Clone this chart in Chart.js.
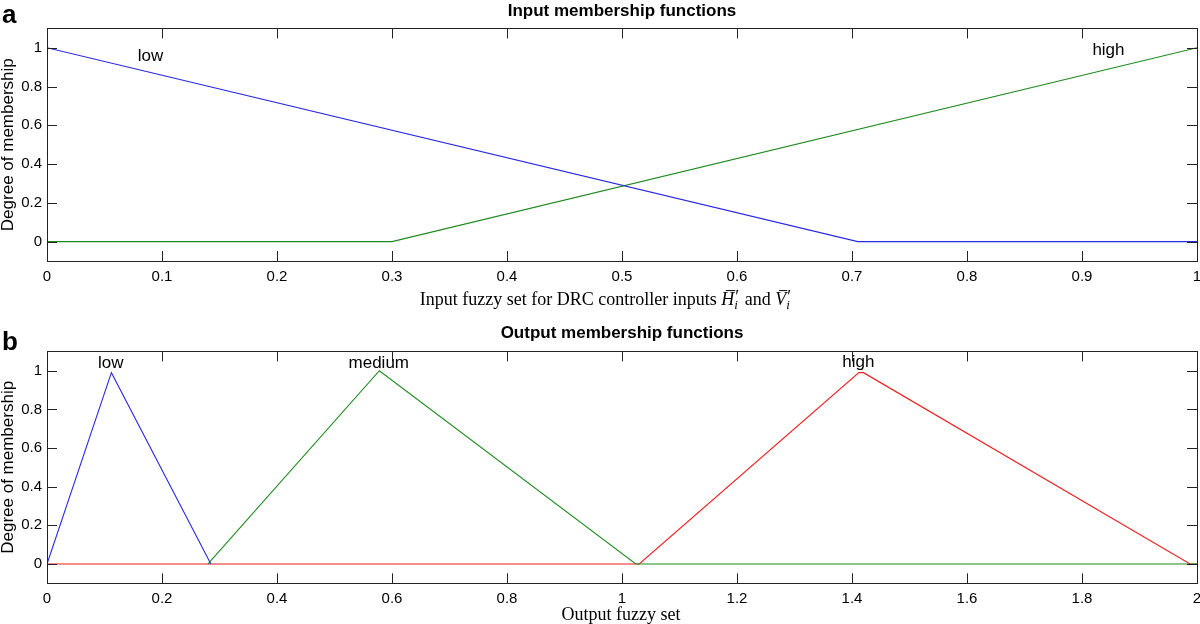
<!DOCTYPE html>
<html>
<head>
<meta charset="utf-8">
<script src="https://cdn.jsdelivr.net/npm/chart.js@4.4.1/dist/chart.umd.min.js"></script>
<style>
  body { margin: 0; background: #fff; }
  .panel { position: relative; width: 1200px; height: 312px; }
</style>
</head>
<body>
<div class="panel"><canvas id="inputChart"></canvas></div>
<div class="panel"><canvas id="outputChart"></canvas></div>
<script>
const inputXTicks = [0, 0.1, 0.2, 0.3, 0.4, 0.5, 0.6, 0.7, 0.8, 0.9, 1];
const outputXTicks = [0, 0.2, 0.4, 0.6, 0.8, 1, 1.2, 1.4, 1.6, 1.8, 2];
const yTicks = [0, 0.2, 0.4, 0.6, 0.8, 1];

// panel a: input membership functions
const inLowX = [0, 0.705, 1];
const inLowY = [1, 0, 0];
const inHighX = [0, 0.3, 1];
const inHighY = [0, 0, 1];

// panel b: output membership functions
const outLowX = [0, 0.112, 0.285];
const outLowY = [0, 0.99, 0];
const outMedX = [0.28, 0.578, 1.024, 2];
const outMedY = [0, 1, 0, 0];
const outHighX = [0, 1.03, 1.412, 1.42, 1.988, 2];
const outHighY = [0, 0, 0.99, 0.99, 0, 0];

// set names written on the curves
const inNames = ['low', 'high'];
const inNameX = [0.09, 0.923];
const inNameY = [0.933, 0.964];
const outNames = ['low', 'medium', 'high'];
const outNameX = [0.111, 0.577, 1.411];
const outNameY = [1.016, 1.016, 1.02];

const SANS = '"Liberation Sans", Arial, sans-serif';
const SERIF = '"Liberation Serif", "Times New Roman", serif';
const BLUE = '#2a2ae6';
const GREEN = '#1f8a1f';
const RED = '#ee1c1c';

function toPoints(xs, ys) {
    return xs.map((x, i) => ({ x: x, y: ys[i] }));
}

// small rich text: plain / italic runs and stacked prime + subscript
function drawRich(ctx, parts, cx, baseline, size) {
    const fontOf = (it, sz) => (it ? 'italic ' : '') + sz + 'px ' + SERIF;
    const small = size * 0.72;
    const widths = parts.map(p => {
        if (p.sup) {
            ctx.font = fontOf(false, size);
            const w1 = ctx.measureText(p.sup).width;
            ctx.font = fontOf(true, small);
            const w2 = ctx.measureText(p.sub).width;
            return Math.max(w1, w2) + 2;
        }
        ctx.font = fontOf(p.it, size);
        return ctx.measureText(p.t).width;
    });
    const total = widths.reduce((a, b) => a + b, 0);
    let xPos = cx - total / 2;
    ctx.textAlign = 'left';
    ctx.textBaseline = 'alphabetic';
    parts.forEach((p, i) => {
        if (p.sup) {
            ctx.font = fontOf(false, size);
            ctx.fillText(p.sup, xPos + 1, baseline - size * 0.12);
            ctx.font = fontOf(true, small);
            ctx.fillText(p.sub, xPos, baseline + size * 0.22);
        } else {
            ctx.font = fontOf(p.it, size);
            ctx.fillText(p.t, xPos, baseline);
            if (p.bar) {
                ctx.beginPath();
                ctx.lineWidth = 1;
                ctx.moveTo(xPos + widths[i] * 0.35, baseline - size * 0.8);
                ctx.lineTo(xPos + widths[i] + 1, baseline - size * 0.8);
                ctx.stroke();
            }
        }
        xPos += widths[i];
    });
}

function framePlugin(opts) {
    return {
        id: 'frame',
        afterDraw(chart) {
            const ctx = chart.ctx;
            const a = chart.chartArea;
            const xs = chart.scales.x;
            const ys = chart.scales.y;
            ctx.save();
            ctx.strokeStyle = '#222';
            ctx.fillStyle = '#000';
            ctx.lineWidth = 1;
            ctx.strokeRect(Math.round(a.left) + 0.5, Math.round(a.top) + 0.5,
                Math.round(a.right - a.left), Math.round(a.bottom - a.top));

            // inward ticks on all four sides
            ctx.beginPath();
            opts.xTicks.forEach(v => {
                const px = Math.round(xs.getPixelForValue(v)) + 0.5;
                ctx.moveTo(px, a.bottom); ctx.lineTo(px, a.bottom - 10);
                ctx.moveTo(px, a.top); ctx.lineTo(px, a.top + 10);
            });
            yTicks.forEach(v => {
                const py = Math.round(ys.getPixelForValue(v)) + 0.5;
                ctx.moveTo(a.left, py); ctx.lineTo(a.left + 10, py);
                ctx.moveTo(a.right, py); ctx.lineTo(a.right - 10, py);
            });
            ctx.stroke();

            ctx.font = '17px ' + SANS;
            ctx.textAlign = 'center';
            ctx.textBaseline = 'alphabetic';
            opts.names.forEach((n, i) => {
                ctx.fillText(n, xs.getPixelForValue(opts.nameX[i]), ys.getPixelForValue(opts.nameY[i]));
            });

            ctx.font = 'bold 26px ' + SANS;
            ctx.textAlign = 'left';
            ctx.fillText(opts.letter, 2, opts.letterY);

            ctx.strokeStyle = '#000';
            drawRich(ctx, opts.xLabel, opts.xLabelX, opts.xLabelY, 18);
            ctx.restore();
        }
    };
}

function makeChart(id, opts) {
    const tickFont = { family: SANS, size: 15 };
    return new Chart(document.getElementById(id), {
        type: 'line',
        data: {
            datasets: opts.series.map(s => ({
                data: toPoints(s.x, s.y),
                borderColor: s.color,
                borderWidth: 1.1,
                pointRadius: 0,
                tension: 0,
                fill: false
            }))
        },
        options: {
            responsive: true,
            maintainAspectRatio: false,
            animation: false,
            layout: { padding: { left: 0, right: 3, top: 0, bottom: 0 } },
            plugins: {
                legend: { display: false },
                tooltip: { enabled: false },
                title: {
                    display: true,
                    fullSize: false,
                    text: opts.title,
                    color: '#000',
                    font: { family: SANS, size: 17, weight: 'bold' },
                    padding: opts.titlePad
                }
            },
            scales: {
                x: {
                    type: 'linear',
                    min: 0,
                    max: opts.xMax,
                    grid: { display: false, drawTicks: false },
                    border: { display: false },
                    ticks: {
                        font: tickFont, color: '#000', padding: 7,
                        autoSkip: false, maxRotation: 0,
                        callback: v => String(v)
                    },
                    afterBuildTicks: s => { s.ticks = opts.xTicks.map(v => ({ value: v })); },
                    afterFit: s => {
                        s.height = opts.xAxisH;
                        s.paddingLeft = 0;
                        s.paddingRight = 0;
                    }
                },
                y: {
                    min: -0.1,
                    max: 1.1,
                    grid: { display: false, drawTicks: false },
                    border: { display: false },
                    ticks: {
                        font: tickFont, color: '#000', padding: 5,
                        callback: v => String(v)
                    },
                    afterBuildTicks: s => { s.ticks = yTicks.map(v => ({ value: v })); },
                    afterFit: s => { s.width = 47; },
                    title: {
                        display: true,
                        text: 'Degree of membership',
                        color: '#000',
                        font: { family: SANS, size: 17, lineHeight: 1.0 },
                        padding: 0
                    }
                }
            }
        },
        plugins: [framePlugin(opts)]
    });
}

makeChart('inputChart', {
    title: 'Input membership functions',
    titlePad: { top: 1, bottom: 7 },
    xMax: 1,
    xTicks: inputXTicks,
    xAxisH: 51,
    series: [
        { x: inLowX, y: inLowY, color: BLUE },
        { x: inHighX, y: inHighY, color: GREEN }
    ],
    names: inNames, nameX: inNameX, nameY: inNameY,
    letter: 'a', letterY: 23,
    xLabel: [
        { t: 'Input fuzzy set for DRC controller inputs ' },
        { t: 'H', it: true, bar: true },
        { sup: '\u2032', sub: 'i' },
        { t: ' and ' },
        { t: 'V', it: true, bar: true },
        { sup: '\u2032', sub: 'i' }
    ],
    xLabelX: 606, xLabelY: 305
});

makeChart('outputChart', {
    title: 'Output membership functions',
    titlePad: { top: 11, bottom: 8 },
    xMax: 2,
    xTicks: outputXTicks,
    xAxisH: 40.7,
    series: [
        { x: outLowX, y: outLowY, color: BLUE },
        { x: outMedX, y: outMedY, color: GREEN },
        { x: outHighX, y: outHighY, color: RED }
    ],
    names: outNames, nameX: outNameX, nameY: outNameY,
    letter: 'b', letterY: 38,
    xLabel: [{ t: 'Output fuzzy set' }],
    xLabelX: 621, xLabelY: 308
});
</script>
</body>
</html>
